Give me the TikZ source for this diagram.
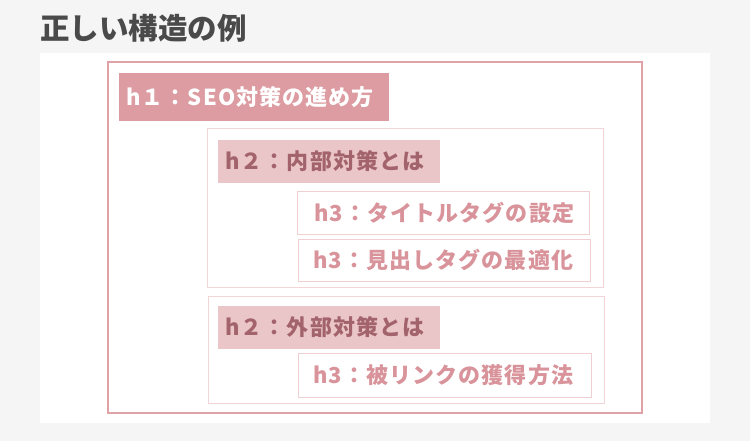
\documentclass[tikz,border=0pt]{standalone}
\usepackage{fontspec}
\newfontfamily\jp{Noto Sans CJK JP}
\newfontfamily\jpls{Noto Sans CJK JP}[LetterSpace=5]
\definecolor{bgc}{HTML}{F5F5F5}
\definecolor{outerc}{HTML}{E0A2A7}
\definecolor{innerc}{HTML}{F3D5D8}
\definecolor{hone}{HTML}{DC9CA1}
\definecolor{htwo}{HTML}{EBC6C9}
\definecolor{htwotext}{HTML}{A3636D}
\definecolor{hthreetext}{HTML}{D9939A}
\definecolor{hthreeline}{HTML}{F0CFD2}
\definecolor{titlec}{HTML}{4A4A4A}
\tikzset{
  frame/.style={anchor=north west, inner sep=0pt, outer sep=0pt, rectangle},
  htxt/.style={anchor=west, inner sep=0pt, font=\jpls\bfseries\fontsize{22pt}{26pt}\selectfont},
}
\begin{document}
\begin{tikzpicture}[x=1pt,y=-1pt]
\fill[bgc] (0,0) rectangle (750,441);
\useasboundingbox (0,0) rectangle (750,441);
\node[frame, fill=white, minimum width=670pt, minimum height=370pt] (panel) at (40,53) {};
\node[anchor=west, inner sep=0pt, text=titlec, font=\jp\bfseries\fontsize{29.5pt}{33pt}\selectfont] (title) at (40,28) {正しい構造の例};
% outer h1 container
\node[frame, draw=outerc, line width=2pt, minimum width=534pt, minimum height=351pt] (outer) at (108,62) {};
\node[frame, fill=hone, minimum width=270pt, minimum height=48pt] (h1lab) at (119,73) {};
\node[htxt, text=white] (h1t) at (126,97) {h１：SEO対策の進め方};
% first h2 container
\node[frame, draw=innerc, line width=1pt, minimum width=396pt, minimum height=158pt] (h2boxa) at (207,129) {};
\node[frame, fill=htwo, minimum width=222pt, minimum height=43pt] (h2laba) at (218,140) {};
\node[htxt, text=htwotext] (h2ta) at (225,161.5) {h２：内部対策とは};
\node[frame, draw=hthreeline, line width=1pt, minimum width=292pt, minimum height=42pt] (h3a) at (297,192) {};
\node[htxt, text=hthreetext] (h3ta) at (314,213) {h3：タイトルタグの設定};
\node[frame, draw=hthreeline, line width=1pt, minimum width=292pt, minimum height=42pt] (h3b) at (298,239) {};
\node[htxt, text=hthreetext] (h3tb) at (313,260) {h3：見出しタグの最適化};
% second h2 container
\node[frame, draw=innerc, line width=1pt, minimum width=396pt, minimum height=107pt] (h2boxb) at (208,296) {};
\node[frame, fill=htwo, minimum width=222pt, minimum height=43pt] (h2labb) at (218,306) {};
\node[htxt, text=htwotext] (h2tb) at (225,327.5) {h２：外部対策とは};
\node[frame, draw=hthreeline, line width=1pt, minimum width=293pt, minimum height=44pt] (h3c) at (298,353) {};
\node[htxt, text=hthreetext] (h3tc) at (313,375) {h3：被リンクの獲得方法};
\end{tikzpicture}
\end{document}
